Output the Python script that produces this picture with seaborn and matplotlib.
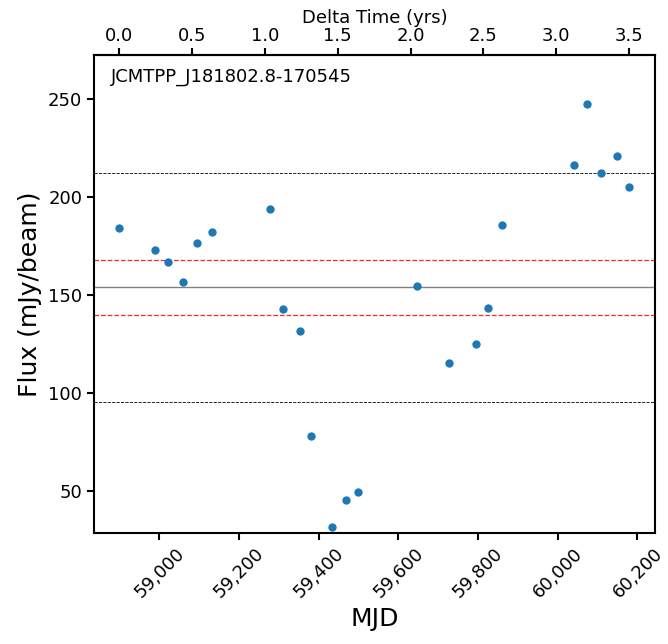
import matplotlib
matplotlib.use("Agg")
import matplotlib.pyplot as plt
import matplotlib.ticker as mticker
import numpy as np
import pandas as pd
import seaborn as sns

# light curve values
mjd = [58900, 58989, 59022, 59060, 59094, 59132, 59278, 59311, 59353, 59381,
       59433, 59468, 59498, 59647, 59727, 59795, 59824, 59860, 60040, 60073,
       60109, 60149, 60180]
flux = [184.2, 173.1, 167.0, 156.8, 176.5, 182.1, 194.0, 142.9, 131.8, 78.1,
        31.8, 45.6, 49.5, 154.4, 115.3, 125.2, 143.4, 185.5, 216.3, 247.6,
        212.0, 220.9, 204.9]
source_name = "JCMTPP_J181802.8-170545"

# reference levels
mean_level = 153.9
inner_levels = [168.0, 139.6]
outer_levels = [212.2, 95.6]

df = pd.DataFrame({"MJD": mjd, "Flux": flux})
mjd0 = df["MJD"].min()

sns.set_style("ticks")
plt.rcParams['font.family'] = ['DejaVu Sans']
# plain black text like the original
for key in ["text.color", "axes.labelcolor", "xtick.color", "ytick.color", "axes.edgecolor"]:
    plt.rcParams[key] = "black"

fig = plt.figure(figsize=(6.68, 6.44), dpi=100)
ax = fig.add_axes([0.1407, 0.1724, 0.8398, 0.7422])

sns.scatterplot(data=df, x="MJD", y="Flux", ax=ax, color="#1f77b4", s=36, linewidth=0, zorder=3)

ax.axhline(mean_level, color="gray", lw=1.0, zorder=1)
for lev in inner_levels:
    ax.axhline(lev, color="red", ls="--", lw=0.9, alpha=0.85, zorder=1)
for lev in outer_levels:
    ax.axhline(lev, color="black", ls="--", lw=0.6, zorder=1)

ax.set_ylim(df["Flux"].min() * 0.9, df["Flux"].max() * 1.1)
ax.xaxis.set_major_formatter(mticker.FuncFormatter(lambda v, p: f"{v:,.0f}"))
ax.tick_params(axis="both", labelsize=13, width=1.5, length=5, direction="out")
plt.setp(ax.get_xticklabels(), rotation=45)
ax.set_xlabel("MJD", fontsize=18)
ax.set_ylabel("Flux (mJy/beam)", fontsize=18)

for sp in ax.spines.values():
    sp.set_linewidth(1.5)
    sp.set_color("black")

top = ax.secondary_xaxis("top", functions=(lambda m: (m - mjd0) / 365.25,
                                           lambda t: t * 365.25 + mjd0))
top.set_xlabel("Delta Time (yrs)", fontsize=13, labelpad=3)
top.tick_params(labelsize=13, width=1.5, length=5, pad=2)
top.spines["top"].set_linewidth(1.5)

ax.text(0.03, 0.955, source_name, transform=ax.transAxes, fontsize=13, va="center", ha="left")

fig.savefig("out.png", dpi=100)
